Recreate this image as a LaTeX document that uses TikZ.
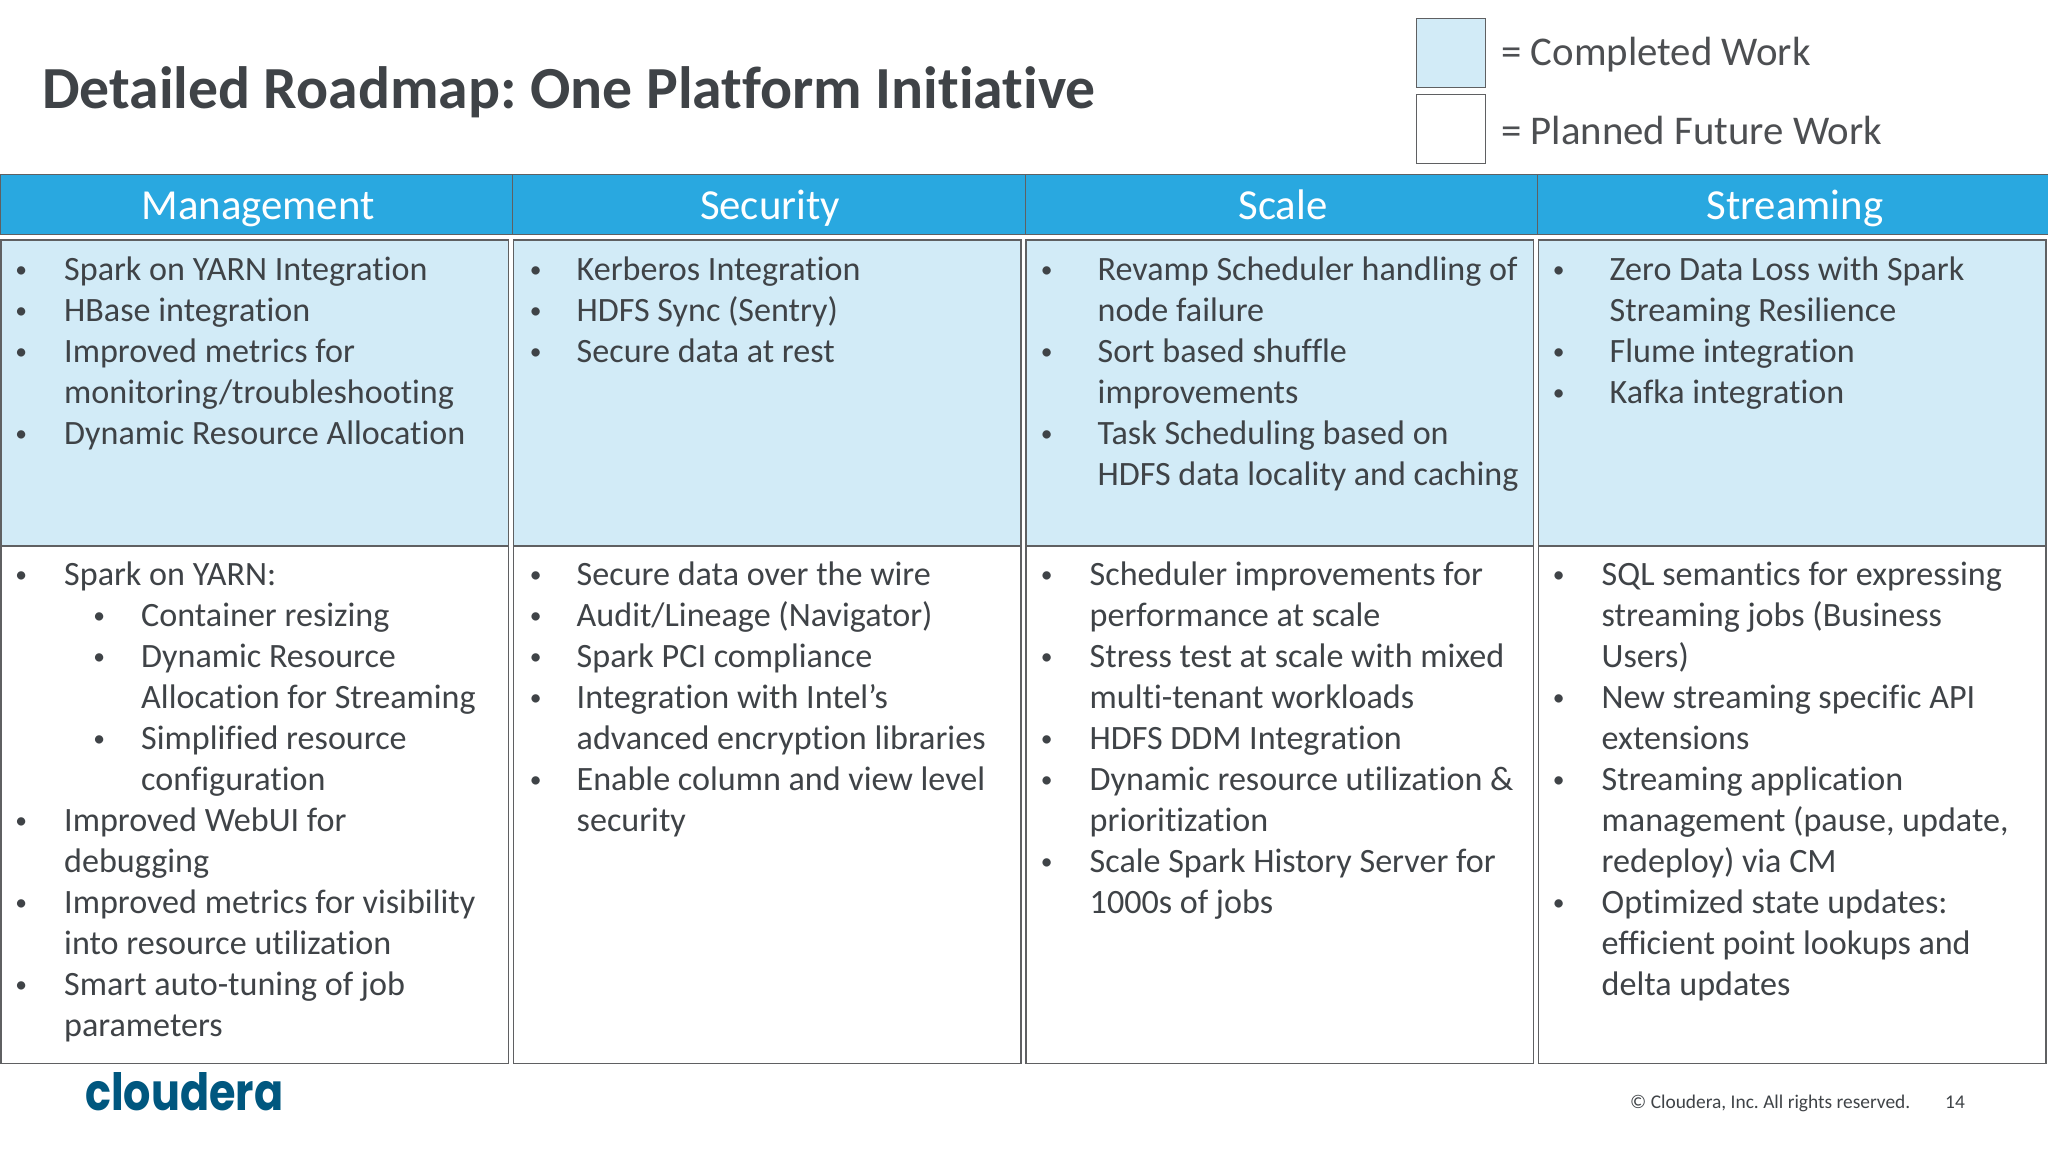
\documentclass[tikz,border=0pt]{standalone}
\usepackage{fontspec}
\setmainfont{Carlito}[RawFeature={-liga;-clig;-dlig}]
\newfontfamily\logofont{Poppins}
\frenchspacing
\definecolor{hdr}{HTML}{29A8E0}
\definecolor{done}{HTML}{D2EBF7}
\definecolor{edge}{HTML}{5F6062}
\definecolor{ink}{HTML}{3F4347}
\definecolor{legendink}{HTML}{4D4F52}
\definecolor{logoblue}{HTML}{00577F}
\newcommand\itm[3]{\makebox[#2pt][l]{\hspace*{#1pt}\makebox[0pt][c]{\raisebox{3.2pt}{\fontsize{23.5}{28}\selectfont •}}}#3}
\newcommand\cnt[2]{\hspace*{#1pt}#2}
\tikzset{
  x=1pt,y=-1pt,
  hdrcell/.style={draw=edge,line width=1.2pt,fill=hdr,anchor=north west,inner sep=0,minimum height=60pt,minimum width=#1},
  hdrtext/.style={text=white,anchor=base,inner sep=0,font=\fontsize{42.8}{50}\selectfont},
  cellbox/.style={draw=edge,line width=1.5pt,anchor=north west,inner sep=0,minimum width=507.5pt,minimum height=#1},
  bodytext/.style={anchor=north west,inner sep=0,align=left,text=ink,font=\fontsize{34.1}{41}\selectfont,execute at begin node={\rule{0pt}{30pt}}},
  legbox/.style={draw=edge,line width=1.3pt,anchor=north west,inner sep=0,minimum width=69pt,minimum height=69pt},
  legtext/.style={anchor=base west,inner sep=0,text=legendink,font=\fontsize{40.8}{48}\selectfont},
  foot/.style={anchor=base west,inner sep=0,text=ink,font=\fontsize{19.4}{22}\selectfont},
}
\begin{document}
\begin{tikzpicture}
\useasboundingbox (0,0) rectangle (2048,1152);
\fill[white] (0,0) rectangle (2048,1152);
\node[anchor=base west,inner sep=0,text=ink,font=\fontsize{59.7}{68}\selectfont\bfseries] (title) at (42,108) {Detailed Roadmap: One Platform Initiative};
\node[legbox,fill=done] (legdone) at (1416,18) {};
\node[legbox,fill=white] (legplan) at (1416,94) {};
\node[legtext] (legdonet) at (1501,65) {= Completed Work};
\node[legtext] (legplant) at (1501,144) {= Planned Future Work};
% header band
\node[hdrcell=512pt] (h1) at (0,174) {};
\node[hdrcell=513pt] (h2) at (512,174) {};
\node[hdrcell=512pt] (h3) at (1025,174) {};
\node[hdrcell=512pt] (h4) at (1537,174) {};
\node[hdrtext] (h1t) at (258,219) {Management};
\node[hdrtext] (h2t) at (770,219) {Security};
\node[hdrtext] (h3t) at (1283,219) {Scale};
\node[hdrtext] (h4t) at (1795,219) {Streaming};
% top row
\node[cellbox=306pt,fill=done] (a1) at (0,239) {};
\node[cellbox=306pt,fill=done] (a2) at (512.5,239) {};
\node[cellbox=306pt,fill=done] (a3) at (1025,239) {};
\node[cellbox=306pt,fill=done] (a4) at (1537.5,239) {};
% bottom row
\node[cellbox=517.5pt,fill=white] (b1) at (0,545) {};
\node[cellbox=517.5pt,fill=white] (b2) at (512.5,545) {};
\node[cellbox=517.5pt,fill=white] (b3) at (1025,545) {};
\node[cellbox=517.5pt,fill=white] (b4) at (1537.5,545) {};
% top row texts
\node[bodytext] (ta1) at (17,257) {\itm{4}{47}{Spark on YARN Integration}\\
\itm{4}{47}{HBase integration}\\
\itm{4}{47}{Improved metrics for}\\
\cnt{47}{monitoring/troubleshooting}\\
\itm{4}{47}{Dynamic Resource Allocation}};
\node[bodytext] (ta2) at (529.5,257) {\itm{6}{47}{Kerberos Integration}\\
\itm{6}{47}{HDFS Sync (Sentry)}\\
\itm{6}{47}{Secure data at rest}};
\node[bodytext] (ta3) at (1041.5,257) {\itm{5}{56}{Revamp Scheduler handling of}\\
\cnt{56}{node failure}\\
\itm{5}{56}{Sort based shuffle}\\
\cnt{56}{improvements}\\
\itm{5}{56}{Task Scheduling based on}\\
\cnt{56}{HDFS data locality and caching}};
\node[bodytext] (ta4) at (1553.5,257) {\itm{5}{56}{Zero Data Loss with Spark}\\
\cnt{56}{Streaming Resilience}\\
\itm{5}{56}{Flume integration}\\
\itm{5}{56}{Kafka integration}};
% bottom row texts
\node[bodytext] (tb1) at (17,562) {\itm{4}{47}{Spark on YARN:}\\
\itm{82}{124}{Container resizing}\\
\itm{82}{124}{Dynamic Resource}\\
\cnt{124}{Allocation for Streaming}\\
\itm{82}{124}{Simplified resource}\\
\cnt{124}{configuration}\\
\itm{4}{47}{Improved WebUI for}\\
\cnt{47}{debugging}\\
\itm{4}{47}{Improved metrics for visibility}\\
\cnt{47}{into resource utilization}\\
\itm{4}{47}{Smart auto-tuning of job}\\
\cnt{47}{parameters}};
\node[bodytext] (tb2) at (529.5,562) {\itm{6}{47}{Secure data over the wire}\\
\itm{6}{47}{Audit/Lineage (Navigator)}\\
\itm{6}{47}{Spark PCI compliance}\\
\itm{6}{47}{Integration with Intel’s}\\
\cnt{47}{advanced encryption libraries}\\
\itm{6}{47}{Enable column and view level}\\
\cnt{47}{security}};
\node[bodytext] (tb3) at (1041.5,562) {\itm{5}{48}{Scheduler improvements for}\\
\cnt{48}{performance at scale}\\
\itm{5}{48}{Stress test at scale with mixed}\\
\cnt{48}{multi-tenant workloads}\\
\itm{5}{48}{HDFS DDM Integration}\\
\itm{5}{48}{Dynamic resource utilization \&}\\
\cnt{48}{prioritization}\\
\itm{5}{48}{Scale Spark History Server for}\\
\cnt{48}{1000s of jobs}};
\node[bodytext] (tb4) at (1553.5,562) {\itm{5}{48}{SQL semantics for expressing}\\
\cnt{48}{streaming jobs (Business}\\
\cnt{48}{Users)}\\
\itm{5}{48}{New streaming specific API}\\
\cnt{48}{extensions}\\
\itm{5}{48}{Streaming application}\\
\cnt{48}{management (pause, update,}\\
\cnt{48}{redeploy) via CM}\\
\itm{5}{48}{Optimized state updates:}\\
\cnt{48}{efficient point lookups and}\\
\cnt{48}{delta updates}};
% footer
\node[anchor=base west,inner sep=0,text=logoblue] (logo) at (85,1110) {\resizebox{198pt}{38pt}{\logofont\bfseries cloudera}};
\node[foot] (copy) at (1630,1108) {© Cloudera, Inc. All rights reserved.};
\node[foot] (page) at (1945,1108) {14};
\end{tikzpicture}
\end{document}
